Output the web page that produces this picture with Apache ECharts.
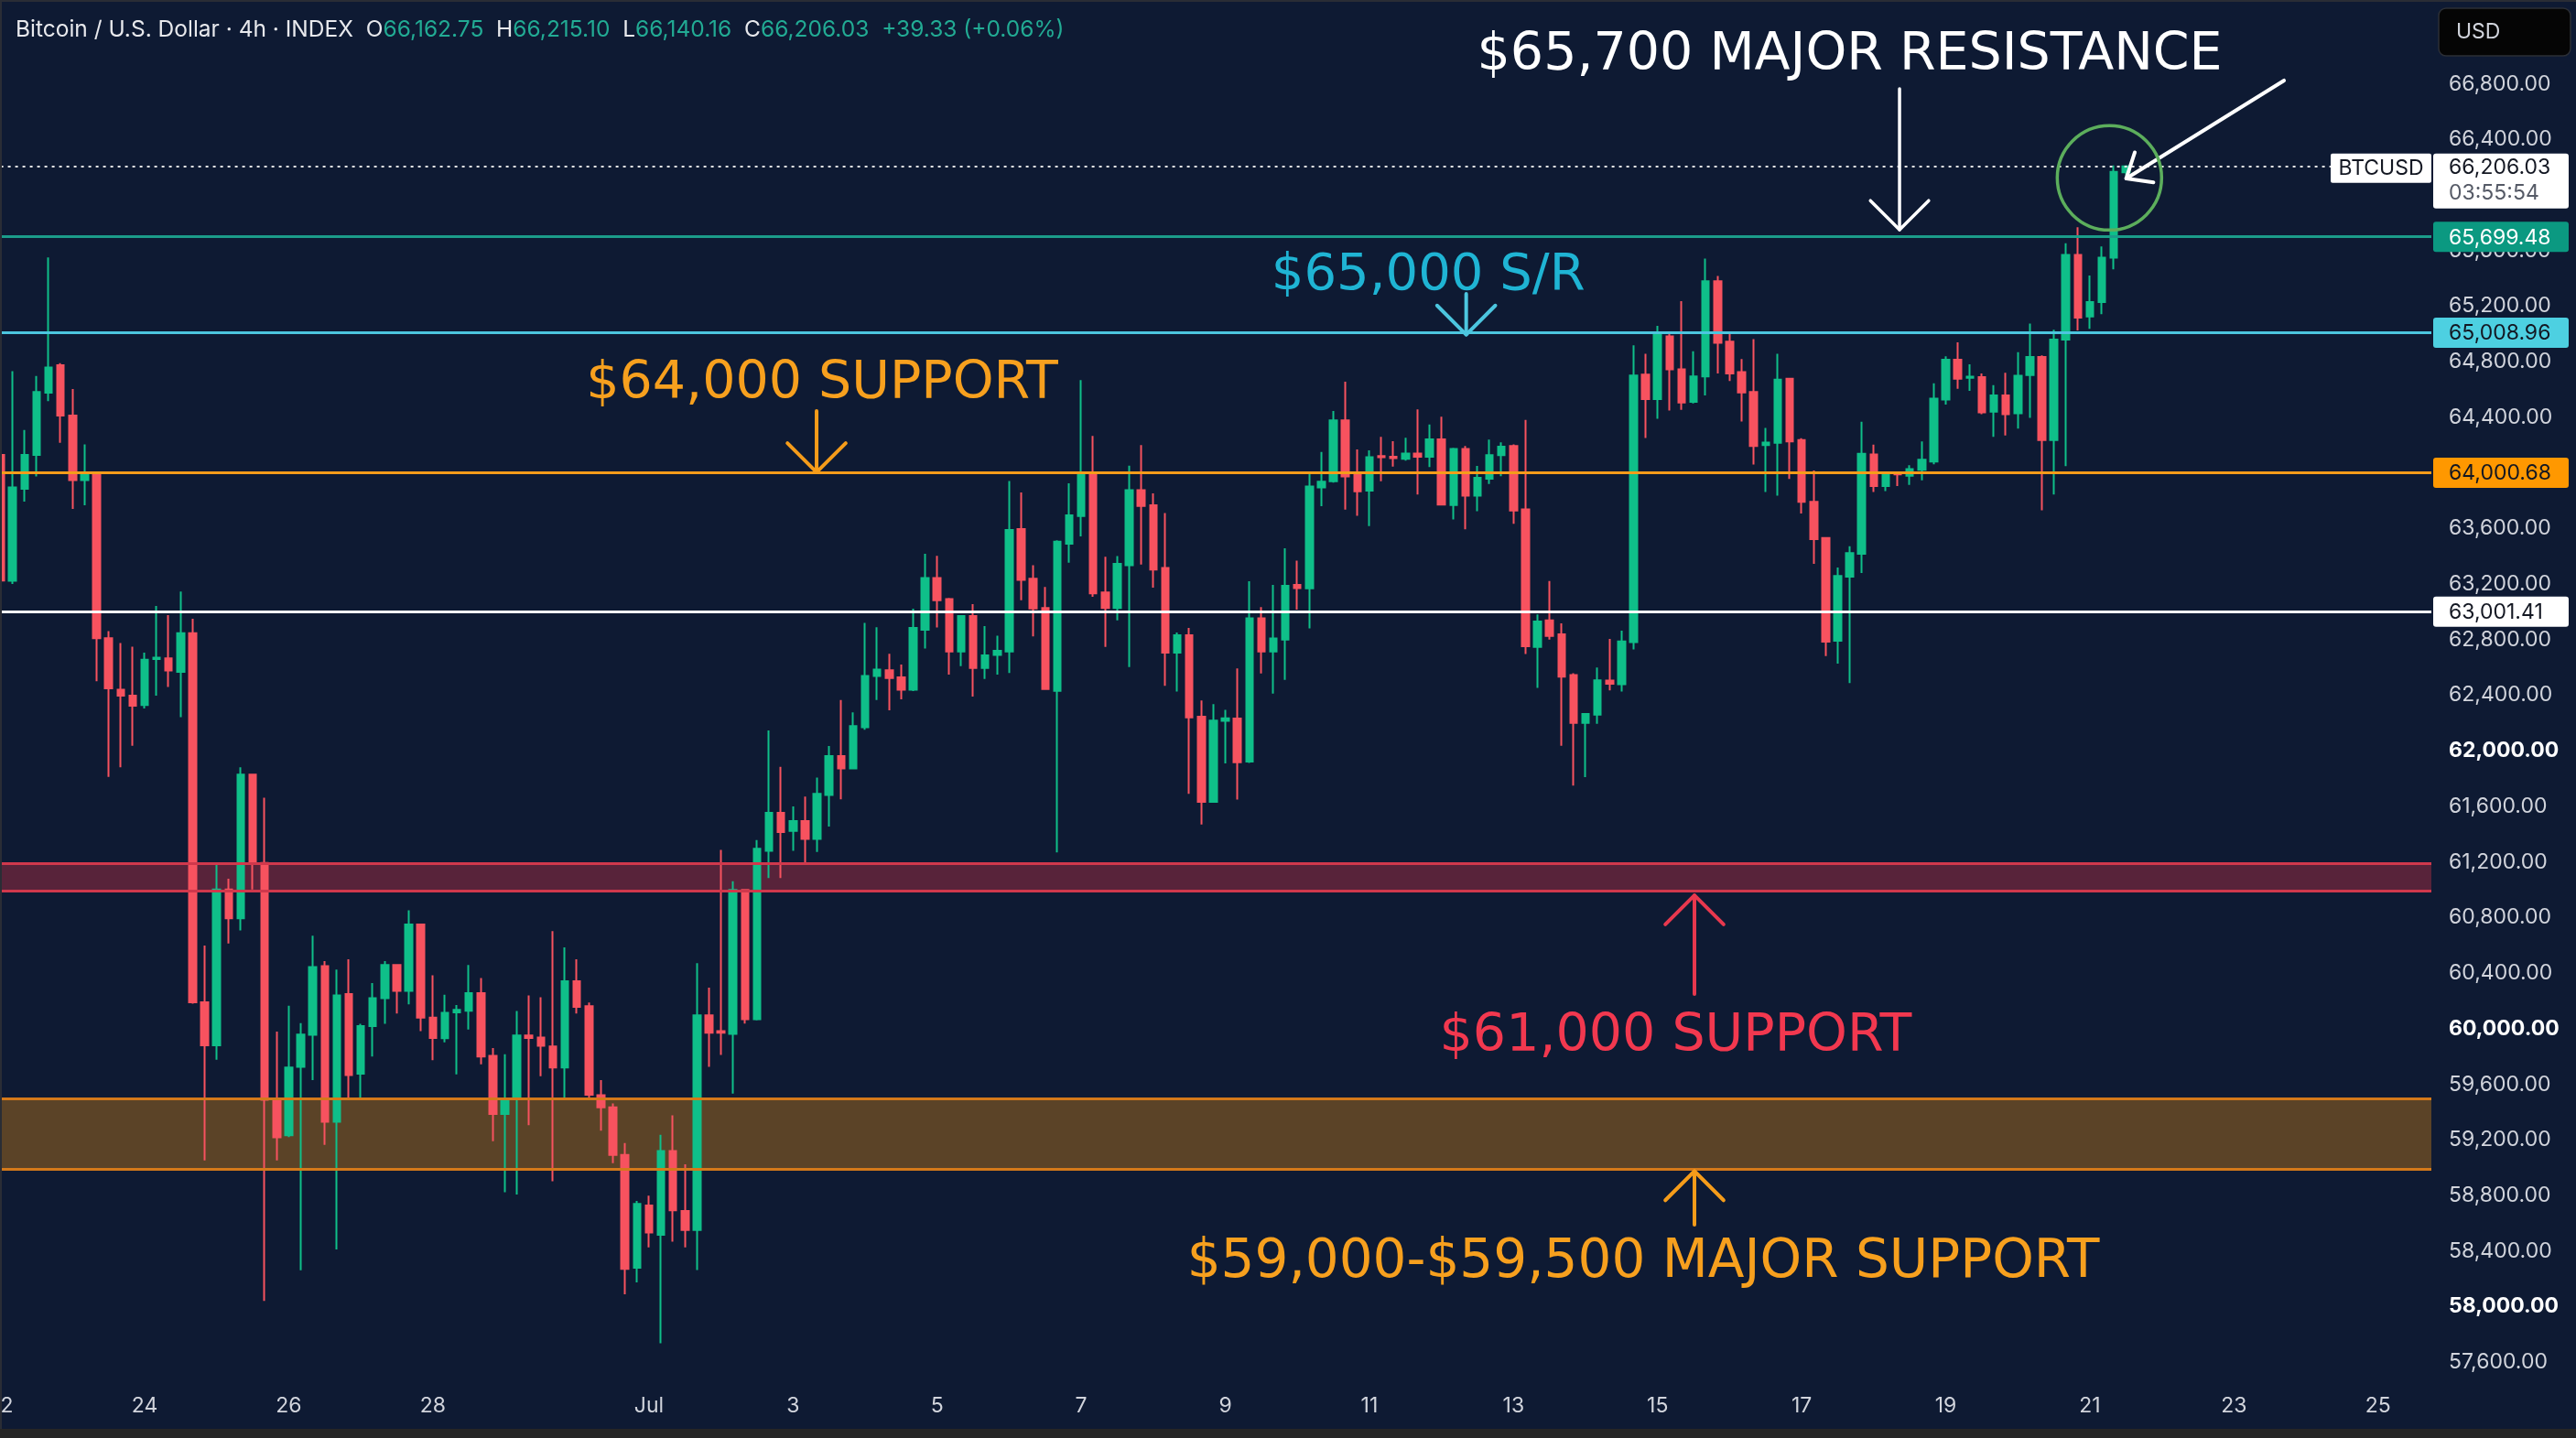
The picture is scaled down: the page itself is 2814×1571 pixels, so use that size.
<!DOCTYPE html>
<html>
<head>
<meta charset="utf-8">
<script src="https://cdn.jsdelivr.net/npm/echarts@6/dist/echarts.min.js"></script>
<style>
html,body{margin:0;padding:0;background:#0e1a33;overflow:hidden;}
#chart{width:2814px;height:1571px;}
</style>
</head>
<body>
<div id="chart"></div>
<script>
// Bitcoin / U.S. Dollar, 4h candles. Index 0 = 22 Jun 00:00, one step = 4 hours.
const opens = [64130,63224,63886,64129,64578,64775,64413,63948,64000,62811,62439,62397,62330,62661,62666,62568,62847,60190,59880,61002,
60795,61829,61193,59488,59234,59725,59956,60451,59330,60249,59676,60019,60219,60458,60273,60750,60080,59932,60117,60129,
60256,59805,59386,59495,59951,59936,59873,59720,60341,60163,59521,59435,59092,58279,58728,58517,59119,58689,58552,60096,
59982,59963,60998,60068,61280,61553,61424,61494,61366,61682,61963,61873,62170,62538,62580,62529,62439,62872,63243,63092,
62714,62970,62597,62690,62714,63596,63238,63028,62431,63491,63689,63998,63140,63028,63335,63876,63767,63316,62706,62831,
62246,61633,62216,62232,61923,62953,62715,62801,63194,63169,63895,63940,64378,63986,63872,64122,64117,64101,64140,64117,
64242,63769,64173,63837,63959,64128,64194,63738,62748,62938,62839,62545,62201,62261,62505,62479,62782,64707,64532,64983,
64746,64511,64694,65379,64944,64726,64583,64201,64216,64678,64236,63792,63532,62792,63253,63418,64133,63906,63998,63979,
64023,64082,64528,64814,64684,64689,64440,64557,64429,64704,64835,64236,64960,65568,65125,65230,65549,66162.75];
const closes = [63225,63896,64129,64583,64759,64413,63948,63989,62811,62449,62397,62325,62656,62671,62578,62847,60190,59880,61002,60795,
61829,61193,59488,59219,59720,59958,60443,59330,60239,59666,60019,60219,60458,60273,60750,60080,59934,60114,60136,60256,
59800,59386,59483,59951,59934,59878,59720,60341,60158,59525,59435,59092,58271,58740,58533,59119,58693,58552,60096,59971,
59971,60998,60068,61295,61553,61416,61494,61366,61690,61963,61873,62178,62538,62584,62524,62439,62885,63243,63084,62714,
62970,62597,62687,62719,63589,63231,63024,62444,63506,63694,63998,63133,63028,63345,63876,63762,63304,62707,62831,62241,
61633,62218,62234,61917,62953,62715,62808,63187,63171,63902,63936,64378,63974,63868,64113,64113,64106,64140,64117,64242,
63772,64173,63837,63964,64128,64188,63730,62753,62930,62826,62534,62201,62266,62508,62482,62787,64701,64532,64993,64746,
64506,64694,65379,64936,64715,64579,64194,64218,64671,64227,63792,63524,62785,63258,63423,64137,63906,63990,63990,64027,
64095,64535,64814,64678,64693,64436,64557,64423,64700,64835,64236,64960,65568,65118,65230,65549,66166.70,66206.03];
const lows = [63150,63200,63793,63974,64516,64216,63741,63767,62500,61813,61881,62036,62304,62397,62459,62242,60180,59053,59777,60614,
60707,61002,58041,59053,59220,58262,59630,59164,58411,59488,59505,59800,60036,60110,60175,59983,59773,59902,59671,59995,
59744,59191,58823,58806,59305,59659,58903,59495,60110,59500,59267,59033,58088,58174,58427,57736,58467,58427,58263,59725,
59811,59533,60037,60060,61084,61084,61280,61194,61272,61455,61651,61866,62151,62366,62292,62370,62430,62736,62887,62548,
62609,62390,62517,62548,62560,63084,62824,62440,61269,63353,63543,63109,62748,62938,62602,63340,63175,62468,62427,61690,
61470,61628,61910,61649,61912,62556,62411,62511,63017,62881,63761,63930,63736,63691,63618,63940,64045,64088,63845,64042,
63765,63665,63594,63725,63920,63977,63633,62696,62453,62800,62037,61750,61810,62195,62435,62427,62729,64251,64389,64449,
64454,64500,64558,64715,64662,64370,64060,63862,63836,63957,63708,63346,62682,62627,62488,63280,63862,63869,63906,63913,
63946,64062,64491,64605,64590,64423,64260,64269,64319,64396,63731,63845,64049,65026,65037,65143,65465,66140.16];
const highs = [64200,64733,64309,64697,65550,64790,64604,64206,64010,62862,62775,62749,62707,63043,62976,63147,62950,60599,61178,61079,
61881,61835,61663,59979,60165,60041,60670,60487,60426,60500,60036,60329,60487,60465,60853,60755,60385,60244,60170,60458,
60365,59861,59817,60127,60239,60227,60702,60585,60500,60188,59631,59463,59178,58760,58799,59236,59377,59025,60471,60295,
61287,61061,61005,61358,62147,61885,61600,61670,61807,62034,62366,62276,62920,62889,62699,62621,63023,63418,63404,63100,
62975,63055,62897,62829,63942,63859,63335,63179,63515,63925,64668,64266,63396,63401,64052,64201,63852,63711,62851,62885,
62363,62336,62295,62593,63221,63035,63194,63457,63369,63992,64151,64446,64657,64169,64163,64260,64228,64253,64458,64349,
64405,64180,64194,64050,64240,64220,64206,64381,62982,63222,62917,62558,62271,62599,62805,62865,64918,64858,65058,65014,
65236,64876,65543,65418,65019,64820,64963,64324,64858,64685,64249,64018,63539,63319,63473,64368,64203,64005,64005,64056,
64227,64645,64840,64939,64781,64715,64631,64721,64869,65075,64846,65031,65652,65768,65421,65630,66212,66215.10];

// time-axis tick labels (candle index -> text)
const xTickIndex = [0,12,24,36,54,66,78,90,102,114,126,138,150,162,174,186,198];
const xTickText  = ['22','24','26','28','Jul','3','5','7','9','11','13','15','17','19','21','23','25'];

// horizontal levels and zones drawn by the analyst
const levelPrices = [65699.48, 65008.96, 64000.68, 63001.41];
const zoneRed = [60990, 61190];
const zoneOrange = [58990, 59495];
const countdown = '03:55:54';

// annotation texts and anchors (candle index, price)
const noteTexts = ['$65,700 MAJOR RESISTANCE', '$65,000 S/R', '$64,000 SUPPORT', '$61,000 SUPPORT', '$59,000-$59,500 MAJOR SUPPORT'];
const noteAnchors = [[154, 66998], [118.9, 65418], [68.42, 64636], [139.5, 59940], [136.8, 58311]];
const arrowAnchors = [
  [[158.15, 66765], [158.15, 65750]],
  [[190.17, 66824], [177.03, 66119]],
  [[122.06, 65289], [122.06, 64995]],
  [[67.96, 64446], [67.96, 64005]],
  [[141.07, 60249], [141.07, 60960]],
  [[141.07, 58589], [141.07, 58975]]
];
const circleAnchor = [175.63, 66123];

// ---------- styles ----------
const BG = '#0e1a33';
const GREEN = '#0fbf89';
const RED = '#f7525f';
const FONT = 'Inter, "Noto Sans", sans-serif';
const NOTE_FONT = '"DejaVu Sans", sans-serif';
const GRID = {left: 0.6, right: 158, top: 91.6, bottom: 82.8};
const levelLineColors = ['#1b9c8a', '#4cc6df', '#f59c1a', '#ffffff'];
const levelBoxColors  = ['#0b9981', '#4dd0e1', '#ff9800', '#ffffff'];
const levelTextColors = ['#ffffff', '#131722', '#131722', '#131722'];
const noteColors = ['#ffffff', '#1fb4d4', '#f7a01e', '#f2384f', '#f7a01e'];
const noteSizes = [57, 56, 57, 57, 58];
const arrowStyles = [
  {c:'#ffffff', w:3.5, arm:45, ang:45},
  {c:'#ffffff', w:4, arm:30, ang:40},
  {c:'#4cc6df', w:4, arm:45, ang:45},
  {c:'#f59c1a', w:4, arm:45, ang:45},
  {c:'#e8384e', w:4, arm:45, ang:45},
  {c:'#f59c1a', w:4, arm:45, ang:45}
];

const fmt = v => v.toLocaleString('en-US', {minimumFractionDigits: 2, maximumFractionDigits: 2});
const candleData = opens.map((o, i) => [i, o, closes[i], lows[i], highs[i]]);

const chart = echarts.init(document.getElementById('chart'), null, {renderer: 'canvas', width: 2814, height: 1571});

const option = {
  backgroundColor: BG,
  animation: false,
  grid: Object.assign({containLabel: false, outerBoundsMode: 'none'}, GRID),
  xAxis: {
    type: 'value', min: 0, max: 202.44, interval: 6,
    axisLine: {show: false}, axisTick: {show: false}, splitLine: {show: false},
    axisLabel: {
      color: '#d1d4dc', fontSize: 23, fontFamily: FONT, margin: 36, showMaxLabel: false,
      formatter: v => {
        const r = Math.round(v);
        if (Math.abs(v - r) > 1e-6) return '';
        const k = xTickIndex.indexOf(r);
        return k >= 0 ? xTickText[k] : '';
      }
    }
  },
  yAxis: {
    type: 'value', position: 'right', min: 57600, max: 66800, interval: 400,
    axisLine: {show: false}, axisTick: {show: false}, splitLine: {show: false},
    axisLabel: {
      color: '#d1d4dc', fontSize: 23, fontFamily: FONT, margin: 19,
      formatter: v => (v % 2000 === 0 ? '{b|' + fmt(v) + '}' : fmt(v)),
      rich: {b: {fontWeight: 'bold', color: '#ffffff', fontSize: 23, fontFamily: FONT}}
    }
  },
  series: [
    {
      type: 'candlestick', data: candleData, barWidth: 8, z: 2,
      itemStyle: {color: GREEN, color0: RED, borderColor: GREEN, borderColor0: RED, borderWidth: 2}
    },
    {
      type: 'line', data: [], z: 10, silent: true,
      markArea: {
        silent: true,
        data: [
          [{yAxis: zoneRed[0], itemStyle: {color: 'rgba(200,50,70,0.40)'}}, {yAxis: zoneRed[1]}],
          [{yAxis: zoneOrange[0], itemStyle: {color: 'rgba(230,140,20,0.36)'}}, {yAxis: zoneOrange[1]}]
        ]
      },
      markLine: {
        silent: true, symbol: ['none', 'none'], label: {show: false},
        data: levelPrices.map((p, i) => ({yAxis: p, lineStyle: {color: levelLineColors[i], width: 3, type: 'solid'}}))
          .concat([
            {yAxis: zoneRed[0], lineStyle: {color: '#d0384c', width: 3, type: 'solid'}},
            {yAxis: zoneRed[1], lineStyle: {color: '#d0384c', width: 3, type: 'solid'}},
            {yAxis: zoneOrange[0], lineStyle: {color: '#d4791a', width: 3, type: 'solid'}},
            {yAxis: zoneOrange[1], lineStyle: {color: '#d4791a', width: 3, type: 'solid'}},
            {yAxis: closes[closes.length - 1], lineStyle: {color: '#e6e6e6', width: 2, type: [3, 5]}}
          ])
      }
    }
  ]
};
chart.setOption(option);

// ---------- overlay graphics anchored to data coordinates ----------
const gp = (i, p) => chart.convertToPixel({gridIndex: 0}, [i, p]);
const W = chart.getWidth();
const axisX = W - GRID.right;
const g = [];

function txt(x, y, text, fill, font, align, z) {
  return {type: 'text', z: z || 101, x: x, y: y, silent: true,
    style: {text: text, fill: fill, font: font, textAlign: align || 'left', textVerticalAlign: 'middle'}};
}
function rect(x, y, w, h, fill, r, stroke, z) {
  return {type: 'rect', z: z || 100, silent: true, shape: {x: x, y: y, width: w, height: h, r: r || 0},
    style: {fill: fill, stroke: stroke || null, lineWidth: stroke ? 1.5 : 0}};
}

// frame strips
g.push(rect(0, 0, W, 2, '#2a2d35', 0, null, 90));
g.push(rect(0, 0, 2, 1561, '#2a2d35', 0, null, 90));
g.push(rect(0, 1561, W, 10, '#262626', 0, null, 90));

// header
const last = closes.length - 1;
const chg = closes[last] - closes[last - 1];
const pct = chg / closes[last - 1] * 100;
const HF = '24.5px ' + FONT;
const headerText = '{w|Bitcoin / U.S. Dollar · 4h · INDEX}  {w|O}{g|' + fmt(opens[last]) + '}  {w|H}{g|' + fmt(highs[last]) +
  '}  {w|L}{g|' + fmt(lows[last]) + '}  {w|C}{g|' + fmt(closes[last]) + '}  {g|' + (chg >= 0 ? '+' : '') + fmt(chg) +
  ' (' + (pct >= 0 ? '+' : '') + pct.toFixed(2) + '%)}';
g.push({type: 'text', z: 101, x: 17, y: 33, silent: true,
  style: {text: headerText, textVerticalAlign: 'middle', textAlign: 'left', font: HF,
    rich: {w: {fill: '#e8e9ed', font: HF}, g: {fill: '#22ab94', font: HF}}}});

// USD box
g.push(rect(axisX + 8, 9, 144, 52, '#050505', 8, '#2c2f36', 100));
g.push(txt(axisX + 27, 35, 'USD', '#d1d4dc', '23px ' + FONT, 'left'));

// level price boxes
levelPrices.forEach((p, i) => {
  const y = gp(0, p)[1];
  g.push(rect(axisX + 2, y - 16.5, 148, 33, levelBoxColors[i], 3));
  g.push(txt(axisX + 19, y + 1, fmt(p), levelTextColors[i], '23px ' + FONT, 'left'));
});

// current price boxes
const yl = gp(0, closes[last])[1];
g.push(rect(axisX + 2, yl - 14, 148, 60, '#ffffff', 3));
g.push(txt(axisX + 19, yl + 1, fmt(closes[last]), '#131722', '23px ' + FONT, 'left'));
g.push(txt(axisX + 19, yl + 29, countdown, '#555a66', '23px ' + FONT, 'left'));
g.push(rect(axisX - 110, yl - 14, 110, 32, '#ffffff', 2));
g.push(txt(axisX - 55, yl + 2, 'BTCUSD', '#131722', '23px ' + FONT, 'center'));

// annotation texts
noteTexts.forEach((t, i) => {
  const p = gp(noteAnchors[i][0], noteAnchors[i][1]);
  g.push(txt(p[0], p[1], t, noteColors[i], noteSizes[i] + 'px ' + NOTE_FONT, 'center'));
});

// arrows with open chevron heads
arrowAnchors.forEach((a, i) => {
  const s = arrowStyles[i];
  const tail = gp(a[0][0], a[0][1]);
  const tip = gp(a[1][0], a[1][1]);
  const dx = tail[0] - tip[0], dy = tail[1] - tip[1];
  const L = Math.hypot(dx, dy), ux = dx / L, uy = dy / L;
  const rot = t => [tip[0] + s.arm * (ux * Math.cos(t) - uy * Math.sin(t)),
                    tip[1] + s.arm * (ux * Math.sin(t) + uy * Math.cos(t))];
  const ang = s.ang * Math.PI / 180;
  const st = {stroke: s.c, lineWidth: s.w, lineCap: 'round', lineJoin: 'round', fill: null};
  g.push({type: 'polyline', z: 102, silent: true, shape: {points: [tail, tip]}, style: st});
  g.push({type: 'polyline', z: 102, silent: true, shape: {points: [rot(ang), tip, rot(-ang)]}, style: st});
});

// highlight circle
const cc = gp(circleAnchor[0], circleAnchor[1]);
g.push({type: 'circle', z: 102, silent: true, shape: {cx: cc[0], cy: cc[1], r: 57},
  style: {fill: null, stroke: '#5cae5c', lineWidth: 3.5}});

chart.setOption({graphic: {elements: g}});
</script>
</body>
</html>
